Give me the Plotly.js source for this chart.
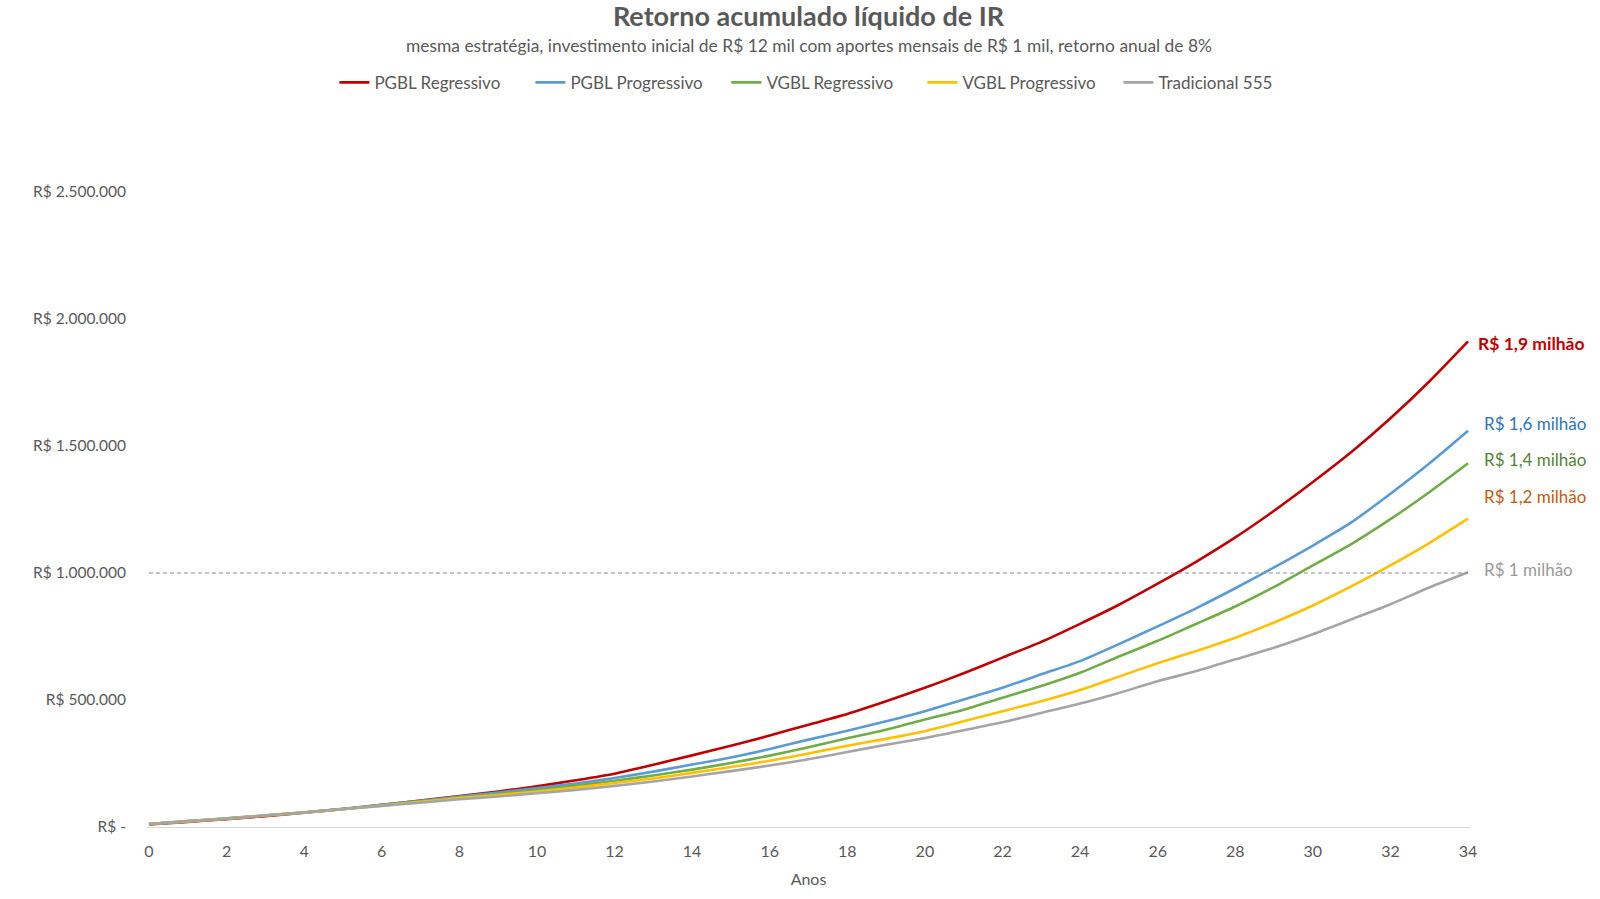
<!DOCTYPE html>
<html>
<head>
<meta charset="utf-8">
<script src="https://cdn.plot.ly/plotly-3.0.1.min.js"></script>
<style>
  html, body { margin: 0; padding: 0; background: #fff; }
  #chart { width: 1600px; height: 899px; }
</style>
</head>
<body>
<div id="chart"></div>
<script>
// anos de acumulação
const anos = [0, 1, 2, 3, 4, 5, 6, 7, 8, 9, 10, 11, 12, 13, 14, 15, 16, 17,
  18, 19, 20, 21, 22, 23, 24, 25, 26, 27, 28, 29, 30, 31, 32, 33, 34];

// saldo líquido de IR (R$)
const pgblRegressivo = [10000, 20000, 31000, 43000, 56000, 71000, 87000, 104000, 122000,
  140000, 160000, 184000, 210000, 245000, 282000, 320000, 360000, 403000, 445000,
  495000, 548000, 605000, 667000, 729000, 800000, 875000, 958000, 1045000, 1140000,
  1245000, 1358000, 1477000, 1609000, 1754000, 1912000];
const pgblProgressivo = [12000, 23000, 34000, 46000, 58000, 72000, 87000, 103000, 120000,
  136000, 153000, 171000, 193000, 218000, 246000, 274000, 307000, 344000, 379000,
  416000, 456000, 502000, 548000, 601000, 653000, 720000, 790000, 862000, 940000,
  1022000, 1108000, 1200000, 1312000, 1431000, 1560000];
const vgblRegressivo = [12000, 23000, 33000, 45000, 57000, 71000, 85000, 101000, 116000,
  130000, 146000, 163000, 182000, 203000, 226000, 252000, 281000, 314000, 349000,
  383000, 423000, 462000, 509000, 555000, 607000, 671000, 733000, 800000, 868000,
  945000, 1030000, 1115000, 1212000, 1318000, 1432000];
const vgblProgressivo = [12000, 22000, 33000, 45000, 57000, 70000, 84000, 99000, 114000,
  126000, 140000, 155000, 173000, 191000, 213000, 236000, 261000, 289000, 320000,
  347000, 377000, 416000, 456000, 495000, 539000, 592000, 645000, 693000, 745000,
  805000, 872000, 948000, 1030000, 1118000, 1214000];
const tradicional555 = [12000, 22000, 33000, 45000, 57000, 70000, 83000, 96000, 109000,
  120000, 133000, 146000, 162000, 179000, 199000, 220000, 242000, 267000, 295000,
  324000, 350000, 381000, 412000, 449000, 486000, 528000, 574000, 614000, 660000,
  706000, 759000, 818000, 877000, 943000, 1003000];

const nomes = ['PGBL Regressivo', 'PGBL Progressivo', 'VGBL Regressivo', 'VGBL Progressivo', 'Tradicional 555'];
const cores = ['#C00000', '#5B9BD5', '#70AD47', '#FFC000', '#A5A5A5'];

// eixo y
const yTicks = [0, 500000, 1000000, 1500000, 2000000, 2500000];
const yLabels = ['R$ -', 'R$ 500.000', 'R$ 1.000.000', 'R$ 1.500.000', 'R$ 2.000.000', 'R$ 2.500.000'];
const xTicks = [0, 2, 4, 6, 8, 10, 12, 14, 16, 18, 20, 22, 24, 26, 28, 30, 32, 34];

// rótulos finais
const rotulos = ['R$ 1,9 milhão', 'R$ 1,6 milhão', 'R$ 1,4 milhão', 'R$ 1,2 milhão', 'R$ 1 milhão'];
const corRotulos = ['#C00000', '#2E75B6', '#548235', '#C55A11', '#999999'];

const FONT = 'Lato, "Open Sans", sans-serif';
const CINZA = '#595959';

const series = [pgblRegressivo, pgblProgressivo, vgblRegressivo, vgblProgressivo, tradicional555];

const traces = series.map((ys, i) => ({
  x: anos,
  y: ys,
  name: nomes[i],
  type: 'scatter',
  mode: 'lines',
  line: { color: cores[i], width: 2.6, shape: 'spline', smoothing: 0.6 },
  hoverinfo: 'skip'
}));

// linha de 1 milhão
traces.push({
  x: [anos[0], anos[anos.length - 1]],
  y: [1000000, 1000000],
  type: 'scatter',
  mode: 'lines',
  line: { color: '#8c8c8c', width: 1.2, dash: '4px,3px' },
  showlegend: false,
  hoverinfo: 'skip'
});

const rotuloY = [1905000, 1590000, 1445000, 1300000, 1015000];
const annotations = rotulos.map((t, i) => ({
  x: 34, y: rotuloY[i], xref: 'x', yref: 'y',
  text: i === 0 ? '<b>' + t + '</b>' : t,
  showarrow: false, xanchor: 'left', yanchor: 'middle',
  xshift: i === 0 ? 8 : 14,
  font: { family: FONT, size: i === 0 ? 17.5 : 17, color: corRotulos[i] }
}));

annotations.push({
  x: 0.5, y: 1.231, xref: 'paper', yref: 'paper',
  text: 'mesma estratégia, investimento inicial de R$ 12 mil com aportes mensais de R$ 1 mil, retorno anual de 8%',
  showarrow: false, xanchor: 'center', yanchor: 'middle',
  font: { family: FONT, size: 17.4, color: CINZA }
});

const layout = {
  width: 1600,
  height: 899,
  paper_bgcolor: '#fff',
  plot_bgcolor: '#fff',
  font: { family: FONT, color: CINZA, size: 15.5 },
  margin: { l: 147, r: 130, t: 192, b: 72 },
  title: {
    text: '<b>Retorno acumulado líquido de IR</b>',
    x: 0.5, xref: 'paper',
    y: 1 - 17 / 899, yref: 'container', yanchor: 'middle',
    font: { family: FONT, size: 27, color: CINZA }
  },
  showlegend: true,
  legend: {
    orientation: 'h',
    x: 0.512, xanchor: 'center',
    y: 1.172, yanchor: 'middle',
    font: { family: FONT, size: 17, color: CINZA },
    itemwidth: 30,
    entrywidth: 151,
    entrywidthmode: 'pixels',
    traceorder: 'normal'
  },
  xaxis: {
    range: [-0.05, 34.05],
    tickvals: xTicks,
    ticktext: xTicks.map(String),
    showgrid: false,
    zeroline: false,
    showline: true,
    linecolor: '#D9D9D9',
    linewidth: 1,
    ticks: '',
    ticklabelstandoff: 10,
    tickfont: { family: FONT, size: 16, color: CINZA },
    title: { text: 'Anos', standoff: 14, font: { family: FONT, size: 16, color: CINZA } }
  },
  yaxis: {
    range: [0, 2500000],
    tickvals: yTicks,
    ticktext: yLabels,
    showgrid: false,
    zeroline: false,
    showline: false,
    ticks: '',
    ticklabelstandoff: 20
  },
  annotations: annotations
};

Plotly.newPlot('chart', traces, layout, { displayModeBar: false, staticPlot: true });
</script>
</body>
</html>
